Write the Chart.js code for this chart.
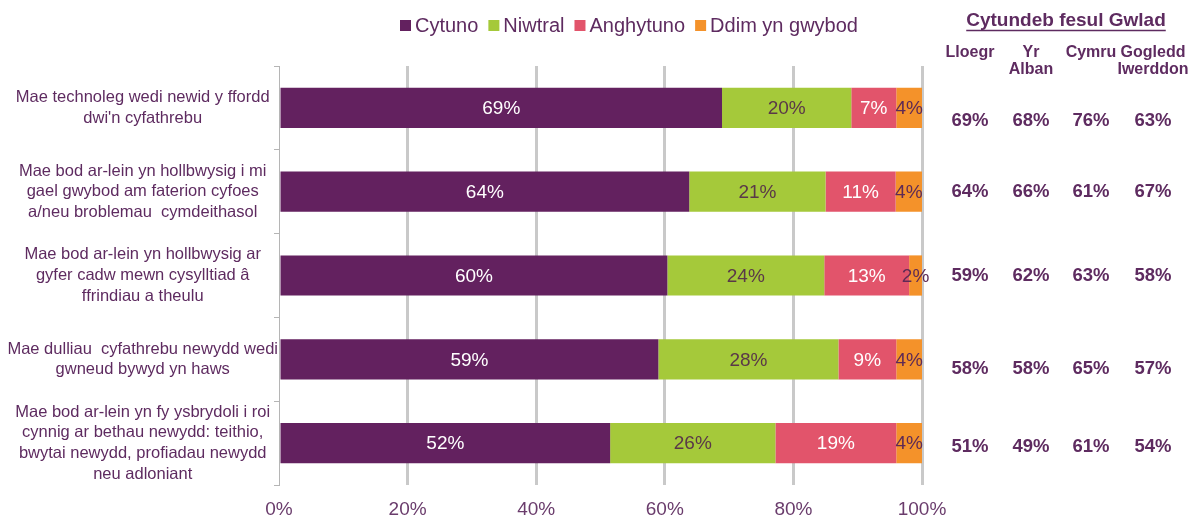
<!DOCTYPE html>
<html>
<head>
<meta charset="utf-8">
<script src="https://cdn.jsdelivr.net/npm/chart.js@4.4.1/dist/chart.umd.min.js"></script>
<style>
  html, body { margin: 0; padding: 0; background: #fff; }
  #wrap { width: 1197px; height: 521px; position: relative; }
</style>
</head>
<body>
<div id="wrap"><canvas id="chart"></canvas></div>
<script>
const categories = [
  ['Mae technoleg wedi newid y ffordd', "dwi'n cyfathrebu"],
  ['Mae bod ar-lein yn hollbwysig i mi', 'gael gwybod am faterion cyfoes', 'a/neu broblemau  cymdeithasol'],
  ['Mae bod ar-lein yn hollbwysig ar', 'gyfer cadw mewn cysylltiad â', 'ffrindiau a theulu'],
  ['Mae dulliau  cyfathrebu newydd wedi', 'gwneud bywyd yn haws'],
  ['Mae bod ar-lein yn fy ysbrydoli i roi', 'cynnig ar bethau newydd: teithio,', 'bwytai newydd, profiadau newydd', 'neu adloniant']
];
const seriesNames = ['Cytuno', 'Niwtral', 'Anghytuno', 'Ddim yn gwybod'];
const cytuno    = [68.9, 63.8, 60.4, 59.0, 51.5];
const niwtral   = [20.1, 21.2, 24.4, 28.0, 25.7];
const anghytuno = [7.0, 10.9, 13.2, 9.0, 18.8];
const ddim      = [4.0, 4.1, 2.0, 4.0, 4.0];
const xTickStep = 20;

const tableTitle = 'Cytundeb fesul Gwlad';
const countries = [['Lloegr'], ['Yr', 'Alban'], ['Cymru'], ['Gogledd', 'Iwerddon']];
const lloegr          = [69, 64, 59, 58, 51];
const yrAlban         = [68, 66, 62, 58, 49];
const cymru           = [76, 61, 63, 65, 61];
const gogleddIwerddon = [63, 67, 58, 57, 54];

const colours = ['#63215f', '#a5c93a', '#e2546b', '#f4922a'];
const labelColours = ['#ffffff', '#5a3848', '#ffffff', '#5e2a55'];
const textPurple = '#5e2b60';
const FONT = '"Liberation Sans", Arial, sans-serif';

// legend drawn at the reference spot (centred over the bars, not the canvas)
const topLegend = {
  id: 'topLegend',
  afterDraw(chart) {
    const ctx = chart.ctx;
    ctx.save();
    ctx.font = '20px ' + FONT;
    ctx.textBaseline = 'middle';
    let x = 400;
    const y = 26;
    chart.data.datasets.forEach((ds, i) => {
      ctx.fillStyle = ds.backgroundColor;
      ctx.fillRect(x, y - 6, 11, 11);
      x += 15;
      ctx.fillStyle = textPurple;
      ctx.fillText(ds.label, x, y);
      x += ctx.measureText(ds.label).width + 10;
    });
    ctx.restore();
  }
};

const barLabels = {
  id: 'barLabels',
  afterDatasetsDraw(chart) {
    const ctx = chart.ctx;
    ctx.save();
    ctx.font = '19px ' + FONT;
    ctx.textAlign = 'center';
    ctx.textBaseline = 'middle';
    chart.data.datasets.forEach((ds, i) => {
      chart.getDatasetMeta(i).data.forEach((bar, j) => {
        const p = bar.getCenterPoint();
        ctx.fillStyle = labelColours[i];
        ctx.fillText(Math.round(ds.data[j]) + '%', p.x, p.y + 1);
      });
    });
    ctx.restore();
  }
};

// right-hand table, rows follow the category scale
const countryTable = {
  id: 'countryTable',
  afterDraw(chart) {
    const ctx = chart.ctx;
    const yScale = chart.scales.y;
    const cols = [970, 1031, 1091, 1153];
    const rowShift = [13, 0, 0, 10, 4];
    const values = [lloegr, yrAlban, cymru, gogleddIwerddon];
    ctx.save();
    ctx.fillStyle = textPurple;
    ctx.strokeStyle = textPurple;
    ctx.textAlign = 'center';
    ctx.textBaseline = 'middle';

    ctx.font = 'bold 19px ' + FONT;
    ctx.fillText(tableTitle, 1066, 21);
    const w = ctx.measureText(tableTitle).width;
    ctx.lineWidth = 1.5;
    ctx.beginPath();
    ctx.moveTo(1066 - w / 2, 30.5);
    ctx.lineTo(1066 + w / 2, 30.5);
    ctx.stroke();

    ctx.font = 'bold 16px ' + FONT;
    countries.forEach((lines, c) => {
      lines.forEach((t, k) => ctx.fillText(t, cols[c], 53 + k * 17));
    });

    ctx.font = 'bold 18.5px ' + FONT;
    values.forEach((arr, c) => {
      arr.forEach((v, r) => {
        ctx.fillText(v + '%', cols[c], yScale.getPixelForValue(r) + rowShift[r]);
      });
    });
    ctx.restore();
  }
};

new Chart(document.getElementById('chart'), {
  type: 'bar',
  data: {
    labels: categories,
    datasets: [
      { label: seriesNames[0], data: cytuno,    backgroundColor: colours[0] },
      { label: seriesNames[1], data: niwtral,   backgroundColor: colours[1] },
      { label: seriesNames[2], data: anghytuno, backgroundColor: colours[2] },
      { label: seriesNames[3], data: ddim,      backgroundColor: colours[3] }
    ]
  },
  options: {
    indexAxis: 'y',
    responsive: true,
    maintainAspectRatio: false,
    animation: false,
    layout: { padding: { top: 66, right: 275, left: 0, bottom: 0 } },
    datasets: { bar: { barPercentage: 0.48, categoryPercentage: 1 } },
    plugins: { legend: { display: false }, tooltip: { enabled: false } },
    scales: {
      x: {
        stacked: true,
        min: 0, max: 100,
        afterFit(scale) { scale.height = 36; },
        border: { display: false },
        grid: {
          drawTicks: false,
          lineWidth: 3,
          color: c => c.tick && c.tick.value === 0 ? 'rgba(0,0,0,0)' : '#c9c9c9'
        },
        ticks: {
          stepSize: xTickStep,
          padding: 13,
          color: '#6a3c6c',
          font: { size: 19, family: FONT },
          callback: v => v + '%'
        }
      },
      y: {
        stacked: true,
        afterFit(scale) { scale.width = 279; },
        border: { display: true, color: '#b5b5b5', width: 1 },
        grid: { drawOnChartArea: false, tickLength: 5, color: '#b5b5b5' },
        ticks: {
          autoSkip: false,
          crossAlign: 'center',
          padding: -4,
          color: textPurple,
          font: { size: 16.5, family: FONT, lineHeight: 1.25 }
        }
      }
    }
  },
  plugins: [barLabels, topLegend, countryTable]
});
</script>
</body>
</html>
